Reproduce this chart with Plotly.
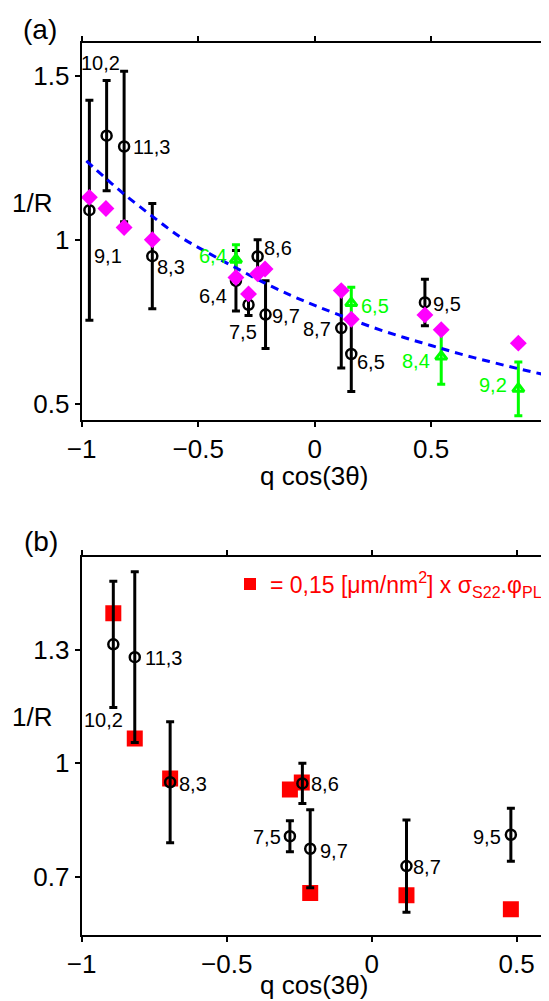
import plotly.graph_objects as go

# ---------------- Panel (a) data ----------------
black_labels_a = ["9,1", "10,2", "11,3", "8,3", "6,4", "7,5", "8,6", "9,7", "8,7", "6,5", "9,5"]
black_x_a = [-0.967, -0.893, -0.818, -0.697, -0.338, -0.284, -0.245, -0.211, 0.114, 0.157, 0.473]
black_y_a = [1.090, 1.317, 1.284, 0.950, 0.875, 0.802, 0.949, 0.772, 0.731, 0.652, 0.809]
black_err_a = [0.335, 0.168, 0.229, 0.160, 0.092, 0.033, 0.051, 0.103, 0.122, 0.114, 0.071]

magenta_x_a = [-0.967, -0.896, -0.818, -0.697, -0.338, -0.284, -0.245, -0.213, 0.114, 0.157, 0.473, 0.543, 0.874]
magenta_y_a = [1.129, 1.095, 1.037, 1.000, 0.885, 0.835, 0.896, 0.911, 0.845, 0.758, 0.771, 0.726, 0.685]

green_labels_a = ["6,4", "6,5", "8,4", "9,2"]
green_x_a = [-0.338, 0.157, 0.543, 0.874]
green_y_a = [0.939, 0.807, 0.644, 0.546]
green_err_a = [0.046, 0.048, 0.084, 0.082]

fit_x_a = [-0.98, -0.90, -0.82, -0.70, -0.58, -0.46, -0.34, -0.22, -0.10, 0.00,
           0.12, 0.25, 0.38, 0.50, 0.62, 0.75, 0.87, 0.98]
fit_y_a = [1.240, 1.189, 1.140, 1.073, 1.010, 0.961, 0.915, 0.870, 0.830, 0.800,
           0.767, 0.733, 0.703, 0.678, 0.653, 0.629, 0.608, 0.590]

# label offsets (pixels) relative to points
black_dx_a = [19, -6, 27, 19, -23, -6, 20, 20, -24, 20, 22]
black_dy_a = [-46, 73, -1, -11, -15, -27, 8, -1, -1, -8, -2]
green_dx_a = [-23, 24, -25, -25]
green_dy_a = [4, -3, -4, 4]

# ---------------- Panel (b) data ----------------
black_labels_b = ["10,2", "11,3", "8,3", "7,5", "8,6", "9,7", "8,7", "9,5"]
black_x_b = [-0.891, -0.817, -0.695, -0.282, -0.239, -0.212, 0.120, 0.480]
black_y_b = [1.315, 1.281, 0.950, 0.807, 0.947, 0.774, 0.728, 0.811]
black_err_b = [0.167, 0.226, 0.160, 0.041, 0.053, 0.103, 0.122, 0.070]
black_dx_b = [-10, 29, 23, -23, 23, 24, 21, -24]
black_dy_b = [-76, -1, -2, -1, -1, -2, -1, -2]

red_x_b = [-0.891, -0.817, -0.695, -0.282, -0.241, -0.212, 0.120, 0.480]
red_y_b = [1.397, 1.066, 0.960, 0.931, 0.949, 0.657, 0.651, 0.614]

legend_text = "= 0,15 [\u03bcm/nm<sup>2</sup>] x \u03c3<sub>S22</sub>.\u03c6<sub>PL</sub>"

FONT = "Liberation Sans, Arial, sans-serif"
BLACK = "#000000"
MAGENTA = "#ff00ff"
GREEN = "#00ff00"
BLUE = "#0000ff"
RED = "#ff0000"

fig = go.Figure()

# ---- panel (a) traces ----
fig.add_trace(go.Scatter(
    x=black_x_a, y=black_y_a, mode="markers",
    error_y=dict(type="data", array=black_err_a, color=BLACK, thickness=3, width=4),
    marker=dict(symbol="circle-open", size=10, color=BLACK, line=dict(width=2.5, color=BLACK)),
    xaxis="x", yaxis="y", showlegend=False))
fig.add_trace(go.Scatter(
    x=green_x_a, y=green_y_a, mode="markers",
    error_y=dict(type="data", array=green_err_a, color=GREEN, thickness=3, width=4),
    marker=dict(symbol="triangle-up-open", size=10, color=GREEN, line=dict(width=3, color=GREEN)),
    xaxis="x", yaxis="y", showlegend=False))
fig.add_trace(go.Scatter(
    x=fit_x_a, y=fit_y_a, mode="lines", line=dict(color=BLUE, width=3, dash="8px,6px", shape="spline"),
    xaxis="x", yaxis="y", showlegend=False))
fig.add_trace(go.Scatter(
    x=magenta_x_a, y=magenta_y_a, mode="markers",
    marker=dict(symbol="diamond", size=13, color=MAGENTA, line=dict(width=0)),
    xaxis="x", yaxis="y", showlegend=False))

# ---- panel (b) traces ----
fig.add_trace(go.Scatter(
    x=red_x_b, y=red_y_b, mode="markers", name=legend_text,
    marker=dict(symbol="square", size=16, color=RED, line=dict(width=0)),
    xaxis="x2", yaxis="y2", showlegend=True))
fig.add_trace(go.Scatter(
    x=black_x_b, y=black_y_b, mode="markers",
    error_y=dict(type="data", array=black_err_b, color=BLACK, thickness=3, width=4),
    marker=dict(symbol="circle-open", size=10, color=BLACK, line=dict(width=2.5, color=BLACK)),
    xaxis="x2", yaxis="y2", showlegend=False))

annotations = []
for lab, x, y, dx, dy in zip(black_labels_a, black_x_a, black_y_a, black_dx_a, black_dy_a):
    annotations.append(dict(x=x, y=y, xref="x", yref="y", text=lab, showarrow=False,
                            xshift=dx, yshift=dy, font=dict(size=20, color=BLACK, family=FONT)))
for lab, x, y, dx, dy in zip(green_labels_a, green_x_a, green_y_a, green_dx_a, green_dy_a):
    annotations.append(dict(x=x, y=y, xref="x", yref="y", text=lab, showarrow=False,
                            xshift=dx, yshift=dy, font=dict(size=20, color=GREEN, family=FONT)))
for lab, x, y, dx, dy in zip(black_labels_b, black_x_b, black_y_b, black_dx_b, black_dy_b):
    annotations.append(dict(x=x, y=y, xref="x2", yref="y2", text=lab, showarrow=False,
                            xshift=dx, yshift=dy, font=dict(size=20, color=BLACK, family=FONT)))

# the page body adds an 8px margin; the figure is sized to fit the window
OFF = 8
W, H = 549 - OFF, 1001 - OFF
def px(xp): return (xp - OFF) / W
def py(yp): return 1 - (yp - OFF) / H

for txt, xp, yp, size in [("(a)", 40, 30, 28), ("(b)", 41, 541, 28),
                          ("1/R", 32, 203, 26), ("1/R", 32, 717, 26),
                          ("q cos(3\u03b8)", 314, 476, 26), ("q cos(3\u03b8)", 314, 985, 26)]:
    annotations.append(dict(x=px(xp), y=py(yp), xref="paper", yref="paper", text=txt,
                            showarrow=False, xanchor="center", yanchor="middle",
                            font=dict(size=size, color=BLACK, family=FONT)))

axis_common = dict(showgrid=False, zeroline=False, showline=True, linecolor=BLACK, linewidth=2,
                   ticks="outside", ticklen=5, tickwidth=1.5, tickcolor=BLACK, automargin=False,
                   tickfont=dict(size=26, color=BLACK, family=FONT))

fig.update_layout(
    template="none",
    width=W, height=H,
    margin=dict(l=0, r=0, t=0, b=0, pad=0),
    paper_bgcolor="white", plot_bgcolor="white",
    font=dict(family=FONT, color=BLACK),
    xaxis=dict(domain=[px(81.7), px(547.7)], range=[-1, 1], anchor="y",
               tickvals=[-1, -0.5, 0, 0.5, 1], mirror="ticks", **axis_common),
    yaxis=dict(domain=[py(420), py(42.7)], range=[0.451, 1.60], anchor="x",
               tickvals=[0.5, 1, 1.5], mirror=True, **axis_common),
    xaxis2=dict(domain=[px(81.7), px(547.7)], range=[-1, 0.607], anchor="y2",
                tickvals=[-1, -0.5, 0, 0.5], mirror="ticks", **axis_common),
    yaxis2=dict(domain=[py(934.5), py(556.7)], range=[0.547, 1.547], anchor="x2",
                tickvals=[0.7, 1, 1.3], mirror=True, **axis_common),
    legend=dict(x=px(547), y=py(584), xanchor="right", yanchor="middle",
                bgcolor="rgba(0,0,0,0)", borderwidth=0,
                font=dict(size=23, color=RED, family=FONT), itemsizing="constant"),
    annotations=annotations,
)

fig.write_html("out.html")
